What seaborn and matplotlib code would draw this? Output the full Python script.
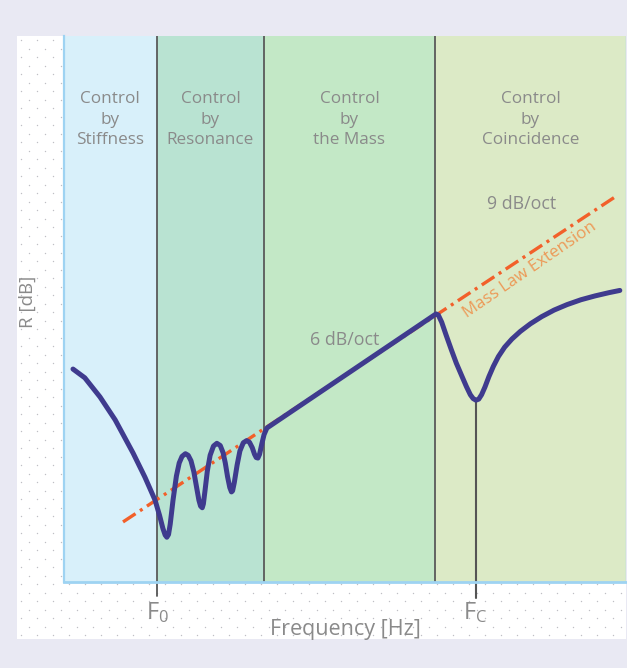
import numpy as np
import pandas as pd
import matplotlib
matplotlib.use("Agg")
import matplotlib.pyplot as plt
import seaborn as sns

# Control regions of a single-leaf partition (frequency in octave units)
region_labels = ["Control\nby\nStiffness", "Control\nby\nResonance",
                 "Control\nby\nthe Mass", "Control\nby\nCoincidence"]
region_edges = [0.0, 1.65, 3.56, 6.6, 10.0]
region_colors = ["#D8F0FA", "#B9E3D2", "#C3E8C6", "#DCEAC6"]

# Sound reduction index curve R [dB]
freq = [0.16, 0.37, 0.64, 0.91, 1.23, 1.44, 1.62, 1.70, 1.76, 1.80, 1.83,
        1.86, 1.89, 1.94, 2.00, 2.05, 2.10, 2.16, 2.21, 2.26, 2.31, 2.36,
        2.40, 2.43, 2.46, 2.48, 2.51, 2.55, 2.60, 2.66, 2.72, 2.78, 2.83,
        2.87, 2.91, 2.95, 2.98, 3.00, 3.03, 3.08, 3.13, 3.19, 3.25, 3.30,
        3.35, 3.39, 3.42, 3.45, 3.48, 3.52, 3.56, 3.61,
        6.62, 6.66, 6.72, 6.80, 6.89, 6.98, 7.08, 7.16, 7.23, 7.28, 7.33,
        7.38, 7.43, 7.49, 7.56, 7.64, 7.73, 7.84, 7.97, 8.12, 8.30, 8.50,
        8.72, 8.95, 9.20, 9.45, 9.70, 9.89]
r_db = [39.0, 37.4, 33.9, 29.7, 23.6, 19.2, 15.0, 12.2, 9.8, 8.6, 8.2,
        8.7, 10.6, 15.0, 19.4, 21.8, 23.0, 23.5, 23.2, 22.2, 20.2, 17.3,
        15.0, 13.9, 13.6, 14.3, 16.8, 20.3, 23.2, 24.9, 25.4, 25.0, 23.7,
        21.8, 19.3, 17.3, 16.5, 16.7, 18.2, 21.4, 24.0, 25.5, 25.9, 25.6,
        24.6, 23.4, 22.8, 22.7, 23.4, 25.3, 27.0, 28.2,
        49.1, 48.9, 47.6, 45.2, 42.6, 40.1, 37.7, 35.8, 34.3, 33.6, 33.3,
        33.5, 34.3, 35.7, 37.6, 39.5, 41.3, 43.0, 44.5, 45.9, 47.3, 48.6,
        49.8, 50.8, 51.7, 52.4, 53.0, 53.4]

# Mass law line (6 dB/oct) and its extension
mass_law_freq = [1.05, 9.86]
mass_law_db = [11.0, 70.9]

# Characteristic frequencies
f0 = 1.65
fc = 7.33
fc_db = 33.3

sns.set_theme(style="white")
plt.rcParams["font.family"] = ["Open Sans", "DejaVu Sans"]

W, H = 627, 668
fig = plt.figure(figsize=(W / 100, H / 100), dpi=100, facecolor="#E9E9F3")

# White dotted panel behind the chart
panel = fig.add_axes([17 / W, 1 - 639 / H, (626 - 17) / W, (639 - 36) / H])
panel.set_xlim(17, 626)
panel.set_ylim(639, 36)
panel.set_facecolor("white")
rows = np.arange(40, 639, 8.5)
dots_x, dots_y = [], []
for k, yy in enumerate(rows):
    xs = np.arange(21 + (k % 2) * 8, 626, 16)
    dots_x.extend(xs)
    dots_y.extend([yy] * len(xs))
panel.scatter(dots_x, dots_y, s=1.0, color="#BFBFC4", linewidths=0)
panel.set_axis_off()
panel.add_patch(plt.Rectangle((17, 36), 609, 603, facecolor="white",
                              edgecolor="none", zorder=-1))

ax = fig.add_axes([64 / W, 1 - 582 / H, (626 - 64) / W, (582 - 36) / H])
ax.set_xlim(0, 10)
ax.set_ylim(0, 100)
ax.set_facecolor("none")

txt = "#8A8A8A"
for i, lab in enumerate(region_labels):
    ax.axvspan(region_edges[i], region_edges[i + 1], color=region_colors[i],
               lw=0, zorder=0)
    xc = (region_edges[i] + region_edges[i + 1]) / 2
    ax.text(xc, 84.7, lab, ha="center", va="center", fontsize=12.3,
            color=txt, linespacing=1.36, zorder=2)

for e in region_edges[1:-1]:
    ax.axvline(e, color="#5A5A5A", lw=1.3, zorder=1)

# Frequency markers below the axis
ax.plot([f0, f0], [0, -2.6], color="#555555", lw=1.3, clip_on=False, zorder=1)
ax.plot([fc, fc], [fc_db, -2.9], color="#555555", lw=1.5, clip_on=False, zorder=1)

df_ml = pd.DataFrame({"freq": mass_law_freq, "R": mass_law_db})
sns.lineplot(data=df_ml, x="freq", y="R", ax=ax, color="#F2602A", lw=2.4,
             linestyle=(0, (4.5, 1.6, 0.9, 1.6)), zorder=3)

df = pd.DataFrame({"freq": freq, "R": r_db})
sns.lineplot(data=df, x="freq", y="R", ax=ax, color="#3F3B8E", lw=3.6,
             sort=False, zorder=4, solid_capstyle="round", solid_joinstyle="round")

ax.text(8.15, 69.3, "9 dB/oct", ha="center", va="center", fontsize=12.8,
        color=txt, zorder=2)
ax.text(4.99, 44.3, "6 dB/oct", ha="center", va="center", fontsize=12.8,
        color=txt, zorder=2)
ax.text(8.28, 57.1, "Mass Law Extension", ha="center", va="center",
        fontsize=12.2, color="#EC9A58", rotation=34.5,
        rotation_mode="anchor", zorder=2)

for sp in ["top", "right"]:
    ax.spines[sp].set_visible(False)
ax.spines["left"].set_color("#9ED3F2")
ax.spines["bottom"].set_color("#9ED3F2")
ax.spines["left"].set_linewidth(1.6)
ax.spines["bottom"].set_linewidth(2.0)
ax.axvline(10, color="#A8D8F0", lw=1.0, zorder=1)
ax.set_xticks([])
ax.set_yticks([])
ax.set_xlabel("")
ax.set_ylabel("")

# Axis captions and frequency marks
fig.text(345 / W, 1 - 630 / H, "Frequency [Hz]", ha="center", va="center",
         fontsize=15.5, color=txt)
fig.text(28 / W, 1 - 302 / H, "R [dB]", ha="center", va="center",
         fontsize=13.5, color=txt, rotation=90)
fig.text(158 / W, 1 - 613 / H, r"$\mathregular{F_0}$", ha="center",
         va="center", fontsize=17, color=txt)
fig.text(475 / W, 1 - 613 / H, r"$\mathregular{F_C}$", ha="center",
         va="center", fontsize=17, color=txt)

fig.savefig("out.png", dpi=100, facecolor=fig.get_facecolor())
